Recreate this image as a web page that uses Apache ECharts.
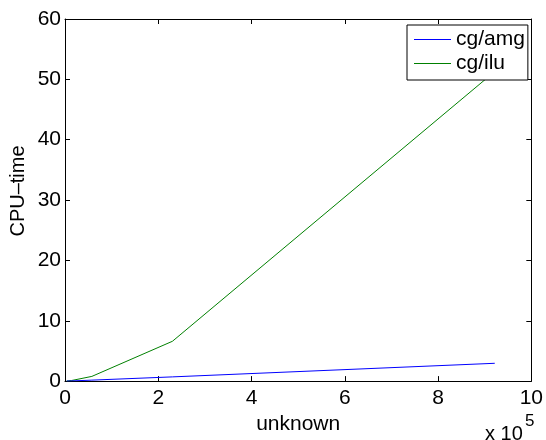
<!DOCTYPE html>
<html>
<head>
<meta charset="utf-8">
<script src="https://cdn.jsdelivr.net/npm/echarts@6/dist/echarts.min.js"></script>
<style>
html,body{margin:0;padding:0;background:#fff;}
#c{width:546px;height:440px;}
</style>
</head>
<body>
<div id="c"></div>
<script>
// unknowns (x 10^5)
var unknowns = [0.036, 0.144, 0.576, 2.304, 9.216];
var cgAmg = [0.005, 0.03, 0.16, 0.70, 2.95];
var cgIlu = [0.01, 0.1, 0.78, 6.6, 51.3];
var xTicks = [0, 2, 4, 6, 8, 10];
var yTicks = [0, 10, 20, 30, 40, 50, 60];

function pairs(xs, ys){ return xs.map(function(x,i){ return [x, ys[i]]; }); }

var FONT = 'Liberation Sans, Arial, Helvetica, sans-serif';
var FS = 21;
var chart = echarts.init(document.getElementById('c'), null, {renderer:'canvas'});
var axisCommon = {
  axisLine:{show:true, onZero:false, lineStyle:{color:'#000', width:1}},
  axisTick:{show:true, inside:true, length:5, lineStyle:{color:'#000', width:1}},
  splitLine:{show:false}
};
function mk(base, extra){ return Object.assign({}, JSON.parse(JSON.stringify(base)), extra); }

chart.setOption({
  backgroundColor:'#fff',
  animation:false,
  color:['#0000ff','#008000'],
  textStyle:{fontFamily:FONT},
  grid:{left:65, right:12, top:19, bottom:58, containLabel:false},
  legend:{
    orient:'vertical', left:407, top:25,
    backgroundColor:'#fff', borderColor:'#000', borderWidth:1,
    padding:[4,3,6,7], itemGap:3, itemWidth:37, itemHeight:1, icon:'rect',
    textStyle:{fontSize:FS, color:'#000', fontFamily:FONT, lineHeight:21},
    data:[
      {name:'cg/amg', itemStyle:{color:'#0000ff'}},
      {name:'cg/ilu', itemStyle:{color:'#008000'}}
    ]
  },
  xAxis:[
    mk(axisCommon,{type:'value', position:'bottom', min:0, max:10, interval:2,
      axisLabel:{show:true, color:'#000', fontSize:FS, margin:7, fontFamily:FONT,
        formatter:function(v){ return xTicks.indexOf(v)>=0 ? String(v) : ''; }},
      name:'unknown', nameLocation:'middle', nameGap:29,
      nameTextStyle:{color:'#000', fontSize:FS, fontFamily:FONT}}),
    mk(axisCommon,{type:'value', position:'top', min:0, max:10, interval:2, axisLabel:{show:false}})
  ],
  yAxis:[
    mk(axisCommon,{type:'value', position:'left', min:0, max:60, interval:10,
      axisLabel:{show:true, color:'#000', fontSize:FS, margin:4, fontFamily:FONT,
        padding:[3,0,0,0],
        formatter:function(v){ return yTicks.indexOf(v)>=0 ? String(v) : ''; }}}),
    mk(axisCommon,{type:'value', position:'right', min:0, max:60, interval:10, axisLabel:{show:false}})
  ],
  graphic:[
    {type:'text', x:18.5, y:191, rotation:Math.PI/2,
      style:{text:'CPU\u2013time', font:'20px '+FONT, fill:'#000', textAlign:'center', textVerticalAlign:'middle'}},
    {type:'text', left:485, top:424, style:{text:'x 10', font:'20px '+FONT, fill:'#000'}},
    {type:'text', left:525, top:413, style:{text:'5', font:'17px '+FONT, fill:'#000'}}
  ],
  series:[
    {name:'cg/amg', type:'line', data:pairs(unknowns, cgAmg), showSymbol:false, symbol:'none',
      color:'#0000ff', lineStyle:{color:'#0000ff', width:1}, itemStyle:{color:'#0000ff'}, z:3},
    {name:'cg/ilu', type:'line', data:pairs(unknowns, cgIlu), showSymbol:false, symbol:'none',
      color:'#008000', lineStyle:{color:'#008000', width:1}, itemStyle:{color:'#008000'}, z:2}
  ]
});
</script>
</body>
</html>
